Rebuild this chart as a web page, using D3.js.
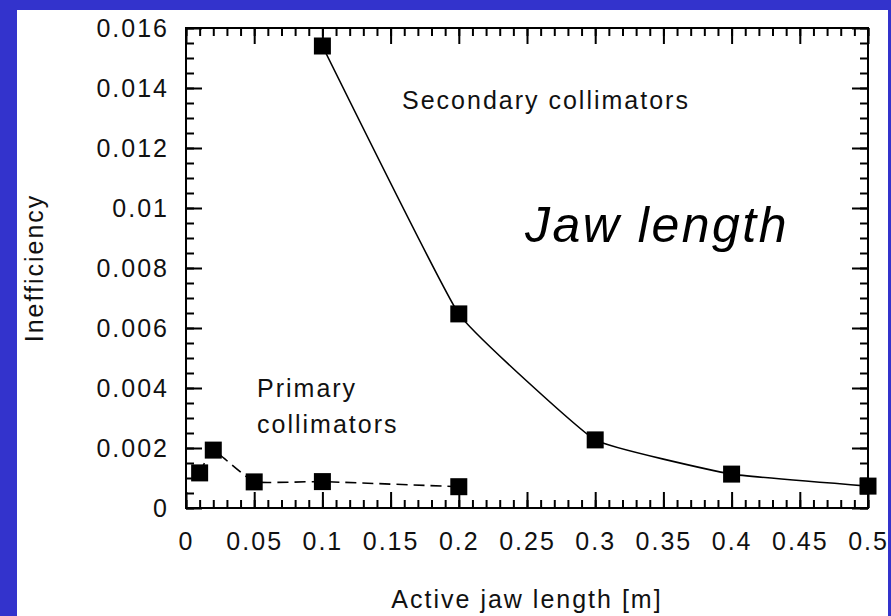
<!DOCTYPE html>
<html lang="en">
<head>
  <meta charset="UTF-8">
  <title>Jaw length</title>
  <script src="https://d3js.org/d3.v7.min.js"></script>
  <style>
    body {
      margin: 0;
      background: #3333cc;
    }
    svg {
      display: block;
      font-family: "Liberation Sans", Arial, sans-serif;
    }
    .tick text {
      font-size: 25px;
      letter-spacing: 2px;
      fill: #111;
    }
    .tick line {
      stroke: #000;
      stroke-width: 2;
    }
    .label {
      font-size: 25px;
      letter-spacing: 2px;
      fill: #111;
    }
  </style>
</head>
<body>

  <svg id="chart" width="891" height="616"></svg>

  <script>
    // primary collimators (dashed)
    const primaryX = [0.01, 0.02, 0.05, 0.1, 0.2];
    const primaryY = [0.00117, 0.00193, 0.00087, 0.00088, 0.00071];
    // secondary collimators (solid)
    const secondaryX = [0.1, 0.2, 0.3, 0.4, 0.5];
    const secondaryY = [0.0154, 0.00647, 0.00227, 0.00113, 0.00073];

    const xTicks = [0, 0.05, 0.1, 0.15, 0.2, 0.25, 0.3, 0.35, 0.4, 0.45, 0.5];
    const xTickLabels = ["0", "0.05", "0.1", "0.15", "0.2", "0.25", "0.3", "0.35", "0.4", "0.45", "0.5"];
    const yTicks = [0, 0.002, 0.004, 0.006, 0.008, 0.01, 0.012, 0.014, 0.016];
    const yTickLabels = ["0", "0.002", "0.004", "0.006", "0.008", "0.01", "0.012", "0.014", "0.016"];
    const xMinor = d3.range(0, 51).map(i => i / 100);
    const yMinor = d3.range(0, 33).map(i => i * 0.0005);

    const svg = d3.select("#chart");

    // white panel inside the blue frame
    svg.append("clipPath").attr("id", "panel")
      .append("rect").attr("x", 17).attr("y", 10).attr("width", 871).attr("height", 606);
    svg.append("rect")
      .attr("x", 17).attr("y", 10).attr("width", 871).attr("height", 606)
      .attr("fill", "#fff");

    const g = svg.append("g").attr("clip-path", "url(#panel)");

    const mLeft = 186, mRight = 868, mTop = 28, mBottom = 508;
    const x = d3.scaleLinear().domain([0, 0.5]).range([mLeft, mRight]);
    const y = d3.scaleLinear().domain([0, 0.016]).range([mBottom, mTop]);

    // minor ticks on all four sides
    const minor = [
      [d3.axisBottom(x).tickValues(xMinor).tickSize(-8), `translate(0,${mBottom})`],
      [d3.axisTop(x).tickValues(xMinor).tickSize(-8), `translate(0,${mTop})`],
      [d3.axisLeft(y).tickValues(yMinor).tickSize(-8), `translate(${mLeft},0)`],
      [d3.axisRight(y).tickValues(yMinor).tickSize(-8), `translate(${mRight},0)`]
    ];
    minor.forEach(([ax, tr]) => {
      g.append("g").attr("transform", tr).call(ax.tickFormat(""))
        .call(s => s.select(".domain").remove());
    });

    // major ticks
    g.append("g").attr("transform", `translate(0,${mBottom})`)
      .call(d3.axisBottom(x).tickValues(xTicks).tickSize(-16).tickPadding(24)
        .tickFormat((d, i) => xTickLabels[i]))
      .call(s => s.select(".domain").remove());
    g.append("g").attr("transform", `translate(0,${mTop})`)
      .call(d3.axisTop(x).tickValues(xTicks).tickSize(-16).tickFormat(""))
      .call(s => s.select(".domain").remove());
    g.append("g").attr("transform", `translate(${mLeft},0)`)
      .call(d3.axisLeft(y).tickValues(yTicks).tickSize(-16).tickPadding(17)
        .tickFormat((d, i) => yTickLabels[i]))
      .call(s => s.select(".domain").remove());
    g.append("g").attr("transform", `translate(${mRight},0)`)
      .call(d3.axisRight(y).tickValues(yTicks).tickSize(-16).tickFormat(""))
      .call(s => s.select(".domain").remove());

    g.selectAll("g").attr("font-family", null).attr("font-size", null);

    // frame
    g.append("rect")
      .attr("x", mLeft).attr("y", mTop)
      .attr("width", mRight - mLeft).attr("height", mBottom - mTop)
      .attr("fill", "none").attr("stroke", "#000").attr("stroke-width", 2);

    // lines
    const line = d3.line().x(d => x(d[0])).y(d => y(d[1])).curve(d3.curveCardinal.tension(0.7));
    const primary = primaryX.map((v, i) => [v, primaryY[i]]);
    const secondary = secondaryX.map((v, i) => [v, secondaryY[i]]);

    g.append("path").datum(primary)
      .attr("d", line).attr("fill", "none")
      .attr("stroke", "#000").attr("stroke-width", 1.6)
      .attr("stroke-dasharray", "11,6");
    g.append("path").datum(secondary)
      .attr("d", line).attr("fill", "none")
      .attr("stroke", "#000").attr("stroke-width", 1.6);

    const size = 17;
    g.selectAll("rect.marker")
      .data(primary.concat(secondary))
      .enter().append("rect")
      .attr("class", "marker")
      .attr("x", d => x(d[0]) - size / 2)
      .attr("y", d => y(d[1]) - size / 2)
      .attr("width", size).attr("height", size)
      .attr("fill", "#000");

    // annotations
    g.append("text").attr("class", "label")
      .attr("x", 402).attr("y", 109)
      .text("Secondary collimators");
    g.append("text").attr("class", "label")
      .attr("x", 257).attr("y", 397)
      .text("Primary");
    g.append("text").attr("class", "label")
      .attr("x", 257).attr("y", 433)
      .text("collimators");
    g.append("text")
      .attr("x", 525).attr("y", 242)
      .attr("font-size", 50).attr("font-style", "italic")
      .attr("letter-spacing", 2.5)
      .attr("fill", "#000")
      .text("Jaw length");

    // axis titles
    g.append("text").attr("class", "label")
      .attr("x", (mLeft + mRight) / 2).attr("y", 608)
      .attr("text-anchor", "middle")
      .text("Active jaw length [m]");
    g.append("text").attr("class", "label")
      .attr("transform", `translate(43,${(mTop + mBottom) / 2}) rotate(-90)`)
      .attr("text-anchor", "middle")
      .text("Inefficiency");
  </script>
</body>
</html>
